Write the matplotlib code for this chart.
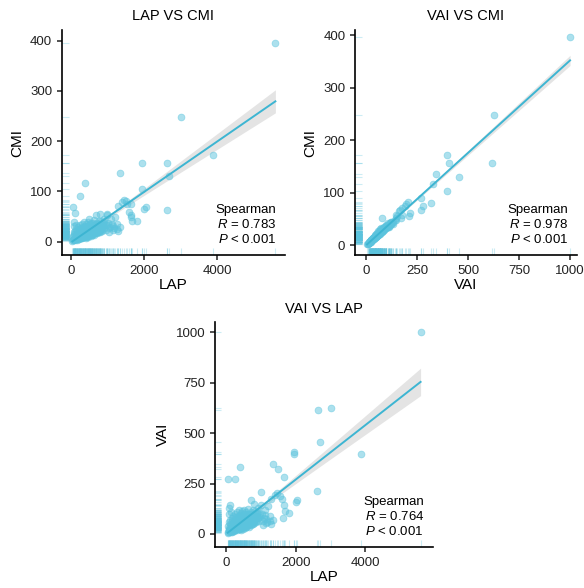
import numpy as np
import matplotlib
matplotlib.use("Agg")
import matplotlib.pyplot as plt

# ================================
# Fonts / style
# ================================
plt.rcParams['font.family'] = ['Liberation Sans', 'DejaVu Sans']
plt.rcParams['mathtext.fontset'] = 'custom'
plt.rcParams['mathtext.rm'] = 'Liberation Sans'
plt.rcParams['mathtext.it'] = 'Liberation Sans:italic'

# ================================
# Data (one entry per subject)
# ================================
lap = [5600, 3020, 3880, 2640, 1940, 2700, 1960, 1350, 2620, 400,
       250, 60, 1500, 1650, 1000, 2000, 2050, 100, 1450, 1300,
       1400, 1550, 1600, 1650, 1680, 1640, 1800, 1200, 1000, 800,
       700, 1100, 1250, 1350, 1150, 1050, 900, 950, 600, 500,
       40, 55, 70, 80, 90, 100, 110, 120, 130, 140,
       150, 160, 170, 180, 190, 200, 210, 220, 230, 240,
       250, 260, 270, 280, 290, 300, 310, 320, 330, 340,
       350, 360, 370, 380, 390, 400, 410, 420, 430, 440,
       450, 460, 470, 480, 490, 500, 510, 520, 530, 540,
       550, 560, 570, 580, 590, 600, 620, 640, 650, 660,
       680, 700, 720, 740, 750, 760, 780, 800, 820, 850,
       870, 900, 920, 950, 980, 60, 75, 95, 115, 135,
       85, 155, 175, 195, 215, 235, 255, 275, 295, 315,
       335, 355, 375, 395, 415, 435, 455, 475, 495, 515,
       535, 555, 575, 610, 630, 670, 690, 710, 730, 770,
       790, 830, 860, 880, 1020, 1080, 1120, 1180,
       65, 85, 105, 125, 145, 165, 185, 205, 225, 245,
       265, 285, 305, 325, 345, 365, 385, 405, 425, 445,
       465, 485, 505, 525, 545, 565, 585, 605, 625, 645,
       665, 685, 705, 725, 745, 765, 785, 805, 825, 845,
       1050, 1150, 1250, 1300]

vai = [1000, 625, 395, 615, 405, 455, 395, 345, 215, 330,
       270, 270, 320, 280, 210, 160, 168, 145, 205, 175,
       195, 190, 175, 145, 115, 80, 105, 140, 145, 150,
       170, 120, 90, 70, 75, 65, 110, 85, 100, 120,
       5, 10, 30, 60, 100, 15, 25, 8, 45, 18,
       80, 35, 12, 28, 55, 20, 32, 45, 15, 38,
       26, 50, 22, 42, 30, 55, 18, 35, 60, 28,
       46, 24, 52, 34, 65, 40, 20, 58, 30, 48,
       72, 36, 55, 26, 62, 44, 80, 38, 68, 50,
       30, 75, 56, 42, 90, 48, 66, 35, 100, 58,
       80, 45, 110, 62, 95, 50, 120, 70, 88, 60,
       105, 78, 130, 66, 95, 40, 20, 50, 70, 110,
       130, 28, 65, 90, 60, 75, 100, 85, 110, 70,
       90, 120, 80, 95, 105, 85, 115, 90, 70, 100,
       60, 110, 85, 75, 125, 95, 68, 85, 100, 75,
       98, 115, 80, 90, 100, 80, 95, 60,
       12, 18, 22, 14, 30, 20, 16, 40, 25, 18,
       35, 22, 45, 28, 38, 30, 48, 26, 42, 32,
       50, 40, 34, 58, 44, 36, 52, 40, 60, 46,
       70, 52, 62, 48, 74, 58, 66, 55, 72, 64,
       45, 55, 62, 50]

cmi = [396, 248, 172, 156, 156, 130, 104, 136, 62, 117,
       90, 68, 80, 74, 55, 65, 68, 57, 82, 70,
       78, 75, 58, 48, 42, 52, 42, 48, 52, 55,
       52, 45, 35, 30, 32, 28, 40, 33, 38, 45,
       2, 3, 10, 20, 32, 5, 8, 3, 15, 6,
       26, 12, 4, 9, 18, 7, 11, 15, 6, 13,
       9, 17, 8, 14, 10, 19, 7, 12, 21, 10,
       16, 9, 18, 12, 22, 14, 8, 20, 11, 17,
       25, 13, 19, 10, 22, 16, 28, 14, 24, 18,
       12, 26, 20, 15, 31, 17, 23, 13, 35, 21,
       28, 17, 38, 22, 33, 19, 42, 25, 31, 22,
       37, 28, 45, 24, 34, 12, 6, 15, 22, 34,
       40, 9, 21, 29, 20, 25, 33, 28, 36, 24,
       30, 40, 27, 32, 35, 29, 39, 31, 25, 35,
       22, 38, 30, 27, 43, 34, 25, 31, 36, 28,
       35, 41, 30, 33, 37, 30, 35, 27,
       4, 6, 7, 5, 10, 7, 6, 13, 9, 7,
       12, 8, 15, 10, 13, 11, 16, 10, 15, 12,
       18, 14, 13, 20, 16, 14, 19, 15, 21, 17,
       25, 19, 22, 18, 26, 21, 24, 20, 26, 23,
       20, 24, 26, 22]

stats_lap_cmi = ["Spearman", "0.783", "< 0.001"]
stats_vai_cmi = ["Spearman", "0.978", "< 0.001"]
stats_lap_vai = ["Spearman", "0.764", "< 0.001"]

pt_color = "#5BC3DD"
line_color = "#3DB5D2"


def draw_panel(ax, x, y, title, xlabel, ylabel, xlim, ylim, xticks, yticks, stats):
    x = np.asarray(x, float)
    y = np.asarray(y, float)

    # linear fit + 95% CI
    slope, intercept = np.polyfit(x, y, 1)
    xs = np.linspace(x.min(), x.max(), 200)
    ys = slope * xs + intercept
    n = len(x)
    resid = y - (slope * x + intercept)
    s = np.sqrt(np.sum(resid ** 2) / (n - 2))
    sxx = np.sum((x - x.mean()) ** 2)
    se = s * np.sqrt(1.0 / n + (xs - x.mean()) ** 2 / sxx)
    ax.fill_between(xs, ys - 1.975 * se, ys + 1.975 * se, color="#D9D9D9", alpha=0.7, lw=0, zorder=1)

    ax.scatter(x, y, s=24, color=pt_color, alpha=0.5, edgecolors=pt_color, linewidths=0.6, zorder=2)
    ax.plot(xs, ys, color=line_color, lw=1.4, zorder=3)

    # rugs
    ax.vlines(x, 0, 0.03, transform=ax.get_xaxis_transform(), color=pt_color, alpha=0.3, lw=0.8)
    ax.hlines(y, 0, 0.03, transform=ax.get_yaxis_transform(), color=pt_color, alpha=0.3, lw=0.8)

    ax.set_xlim(xlim)
    ax.set_ylim(ylim)
    ax.set_xticks(xticks)
    ax.set_yticks(yticks)
    for sp in ['top', 'right']:
        ax.spines[sp].set_visible(False)
    for sp in ['left', 'bottom']:
        ax.spines[sp].set_linewidth(1.2)
    ax.tick_params(direction='out', length=3.5, width=1.1, labelsize=9.5, colors='#222222', pad=3.5)
    ax.set_title(title, fontsize=10.5, pad=7)
    ax.set_xlabel(xlabel, fontsize=11, labelpad=1)
    ax.set_ylabel(ylabel, fontsize=11, labelpad=4)

    txt = stats[0] + "\n" + r"$\it{R}$ = " + stats[1] + "\n" + r"$\it{P}$ " + stats[2]
    ax.text(0.96, 0.04, txt, transform=ax.transAxes, ha='right', va='bottom',
            fontsize=9.5, linespacing=1.2)


fig = plt.figure(figsize=(5.84, 5.88), dpi=100)

ax1 = fig.add_axes([0.106, 0.566, 0.382, 0.383])
draw_panel(ax1, lap, cmi, "LAP VS CMI", "LAP", "CMI",
           (-246, 5863), (-27, 421), [0, 2000, 4000], [0, 100, 200, 300, 400], stats_lap_cmi)

ax2 = fig.add_axes([0.608, 0.566, 0.380, 0.383])
draw_panel(ax2, vai, cmi, "VAI VS CMI", "VAI", "CMI",
           (-54, 1034), (-19, 410), [0, 250, 500, 750, 1000], [0, 100, 200, 300, 400], stats_vai_cmi)

ax3 = fig.add_axes([0.368, 0.070, 0.373, 0.382])
draw_panel(ax3, lap, vai, "VAI VS LAP", "LAP", "VAI",
           (-330, 5950), (-64, 1050), [0, 2000, 4000], [0, 250, 500, 750, 1000], stats_lap_vai)

fig.savefig("out.png", dpi=100)
